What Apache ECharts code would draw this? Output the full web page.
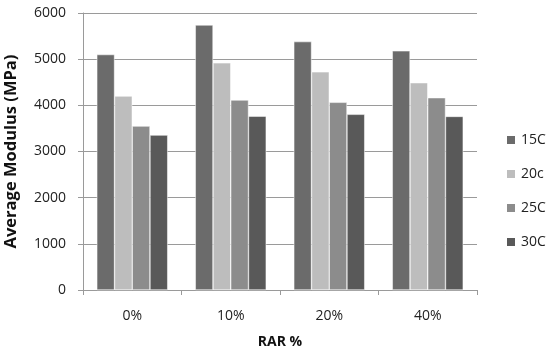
<!DOCTYPE html>
<html><head><meta charset="utf-8">
<script src="https://cdn.jsdelivr.net/npm/echarts@6/dist/echarts.min.js"></script>
<style>html,body{margin:0;padding:0;background:#fff}#c{width:550px;height:354px}</style>
</head><body><div id="c"></div>
<script>
const categories = ['0%', '10%', '20%', '40%'];
const seriesNames = ['15C', '20c', '25C', '30C'];
const s15C = [5100, 5740, 5380, 5180];
const s20c = [4200, 4920, 4725, 4490];
const s25C = [3550, 4115, 4065, 4165];
const s30C = [3355, 3765, 3805, 3760];
const yTicks = [0, 1000, 2000, 3000, 4000, 5000, 6000];
const colors = ['#6b6b6b', '#bdbdbd', '#8c8c8c', '#595959'];
const values = [s15C, s20c, s25C, s30C];
const font = "'Open Sans', 'Liberation Sans', sans-serif";
const chart = echarts.init(document.getElementById('c'));
chart.setOption({
  animation: false,
  grid: { left: 83, right: 73, top: 13, bottom: 64, containLabel: false, outerBoundsMode: 'none' },
  legend: {
    orient: 'vertical', left: 500, top: 128, itemWidth: 10, itemHeight: 10, itemGap: 20,
    icon: 'rect',
    textStyle: { fontFamily: font, fontSize: 14, color: '#222' },
    data: seriesNames
  },
  xAxis: {
    type: 'category', data: categories,
    name: 'RAR %', nameLocation: 'middle', nameGap: 45,
    nameTextStyle: { fontFamily: font, fontSize: 14, fontWeight: 'bold', color: '#111' },
    axisLine: { lineStyle: { color: '#9a9a9a' } },
    axisTick: { show: true, length: 5, lineStyle: { color: '#9a9a9a' } },
    axisLabel: { fontFamily: font, fontSize: 14, color: '#222', margin: 19 }
  },
  yAxis: {
    type: 'value', min: yTicks[0], max: yTicks[yTicks.length - 1], interval: 1000,
    name: 'Average Modulus (MPa)', nameLocation: 'middle', nameGap: 63,
    nameTextStyle: { fontFamily: font, fontSize: 16.5, fontWeight: 'bold', color: '#111' },
    axisLine: { show: true, lineStyle: { color: '#9a9a9a' } },
    axisTick: { show: true, length: 5, lineStyle: { color: '#9a9a9a' } },
    axisLabel: { fontFamily: font, fontSize: 14, color: '#222', margin: 17, formatter: v => String(v) },
    splitLine: { lineStyle: { color: '#9a9a9a' } }
  },
  series: seriesNames.map((n, i) => ({
    name: n, type: 'bar', data: values[i],
    barGap: '0%', barCategoryGap: '28%',
    itemStyle: { color: colors[i], borderColor: '#fff', borderWidth: 0.5 }
  }))
});
</script></body></html>
